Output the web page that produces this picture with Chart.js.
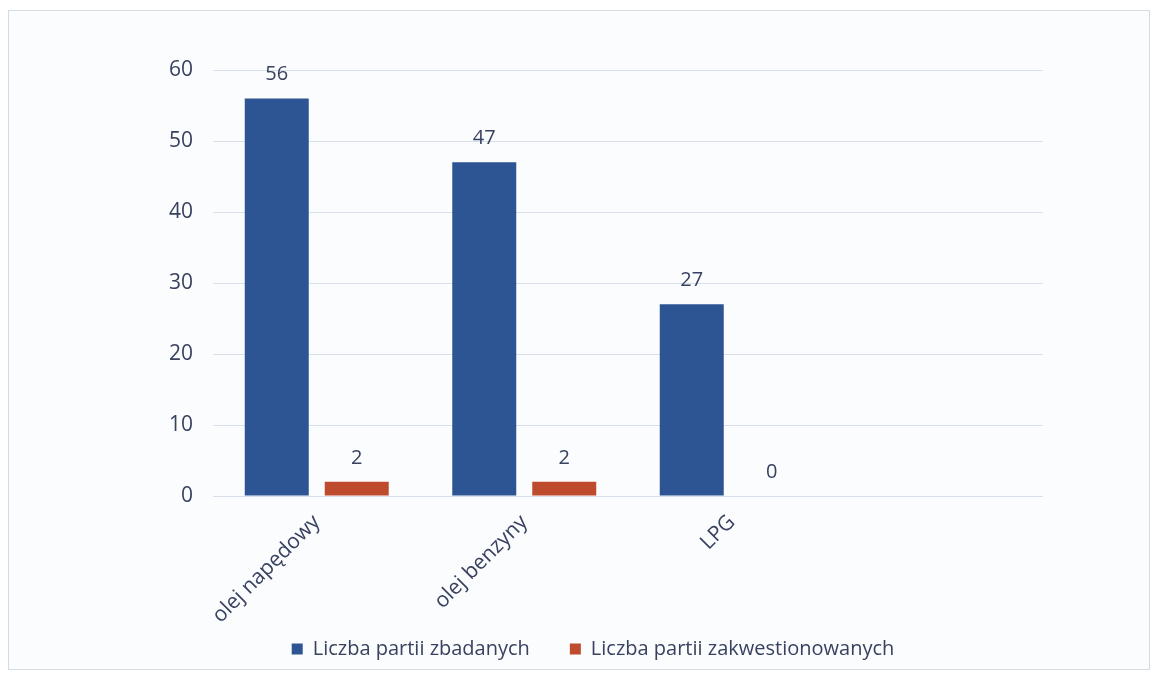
<!DOCTYPE html>
<html>
<head>
<meta charset="utf-8">
<script src="https://cdn.jsdelivr.net/npm/chart.js@4"></script>
<style>
  html, body { margin: 0; padding: 0; background: #ffffff; }
  #wrap { position: relative; width: 1156px; height: 678px; }
  #frame { position: absolute; left: 8px; top: 10px; width: 1140px; height: 658px;
           border: 1px solid #d3dbe6; background: #fbfcfd; }
  canvas { position: absolute; left: 0; top: 0; }
</style>
</head>
<body>
<div id="wrap">
  <div id="frame"></div>
  <canvas id="chart" width="1156" height="678"></canvas>
</div>
<script>
// categories (4th slot is empty in the original)
const categories = ["olej napędowy", "olej benzyny", "LPG", ""];
const zbadane = [56, 47, 27, null];
const zakwestionowane = [2, 2, 0, null];
const seriesNames = ["Liczba partii zbadanych", "Liczba partii zakwestionowanych"];

const textColor = "#384260";
const fontFamily = "'Open Sans', Lato, sans-serif";

// value labels above each bar
const valueLabels = {
    id: "valueLabels",
    afterDatasetsDraw(chart) {
        const ctx = chart.ctx;
        ctx.save();
        ctx.fillStyle = textColor;
        ctx.font = "20px " + fontFamily;
        ctx.textAlign = "center";
        ctx.textBaseline = "middle";
        chart.data.datasets.forEach((ds, i) => {
            chart.getDatasetMeta(i).data.forEach((bar, j) => {
                const v = ds.data[j];
                if (v === null || v === undefined) return;
                ctx.fillText(String(v), bar.x, bar.y - 24);
            });
        });
        ctx.restore();
    }
};

new Chart(document.getElementById("chart"), {
    type: "bar",
    data: {
        labels: categories,
        datasets: [
            { label: seriesNames[0], data: zbadane, backgroundColor: "#2d5493" },
            { label: seriesNames[1], data: zakwestionowane, backgroundColor: "#bf4b2f" }
        ]
    },
    options: {
        responsive: false,
        animation: false,
        layout: { padding: { top: 70, right: 113, bottom: 9, left: 143 } },
        datasets: { bar: { barPercentage: 0.8, categoryPercentage: 0.771 } },
        plugins: {
            legend: {
                position: "bottom",
                labels: {
                    color: textColor,
                    font: { family: fontFamily, size: 20 },
                    boxWidth: 11,
                    boxHeight: 11,
                    padding: 40
                }
            },
            tooltip: { enabled: false }
        },
        scales: {
            x: {
                grid: { display: false },
                border: { display: false },
                ticks: {
                    color: textColor,
                    font: { family: fontFamily, size: 21 },
                    minRotation: 45,
                    maxRotation: 45,
                    padding: 6
                },
                afterFit(scale) {
                    scale.height = 103;
                    // let the rotated labels run into the legend band
                    scale._computeLabelArea = () => undefined;
                }
            },
            y: {
                min: 0,
                max: 60,
                ticks: {
                    stepSize: 10,
                    color: textColor,
                    font: { family: fontFamily, size: 21 },
                    padding: 20
                },
                grid: { color: "#d8e0ec", drawTicks: false },
                border: { display: false },
                afterFit(scale) { scale.width = 70; }
            }
        }
    },
    plugins: [valueLabels]
});
</script>
</body>
</html>
